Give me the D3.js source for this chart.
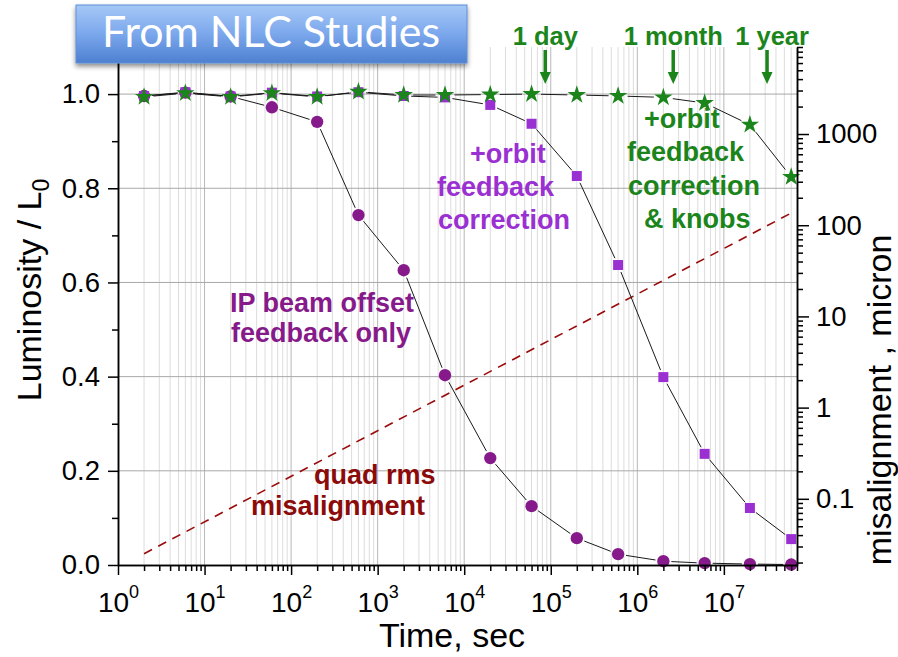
<!DOCTYPE html>
<html>
<head>
<meta charset="utf-8">
<script src="https://cdn.jsdelivr.net/npm/d3@7"></script>
<style>
  body { margin: 0; background: #fff; }
  svg { display: block; }
  text { font-family: "Liberation Sans", Arial, sans-serif; }
</style>
</head>
<body>
<svg id="chart" width="898" height="657"></svg>
<script>
// values
const times = [2, 6, 20, 60, 200, 600, 2000, 6000, 2e4, 6e4, 2e5, 6e5, 2e6, 6e6, 2e7, 6e7];
const ipOffsetOnly = [0.996, 1.003, 0.995, 0.972, 0.941, 0.743, 0.626, 0.403, 0.227, 0.125, 0.057, 0.023, 0.008, 0.004, 0.002, 0.001];
const orbitFeedback = [0.996, 1.004, 0.995, 1.003, 0.995, 1.004, 0.996, 0.993, 0.977, 0.937, 0.826, 0.637, 0.399, 0.236, 0.121, 0.055];
const orbitKnobs = [0.994, 1.002, 0.994, 1.002, 0.994, 1.005, 0.998, 0.998, 0.999, 1.0, 0.998, 0.996, 0.993, 0.981, 0.935, 0.824];
const quadTimes = [2, 6e7];
const quadRms = [0.025, 136];

const xTicks = [1, 10, 100, 1000, 1e4, 1e5, 1e6, 1e7];
const xTickExp = ['0', '1', '2', '3', '4', '5', '6', '7'];
const yTicks = [0, 0.2, 0.4, 0.6, 0.8, 1.0];
const yMinorTicks = [0.1, 0.3, 0.5, 0.7, 0.9];
const rightTicks = [0.1, 1, 10, 100, 1000];

const timeMarks = ['1 day', '1 month', '1 year'];
const timeMarkSec = [86400, 2.6e6, 3.156e7];

const svg = d3.select('#chart');

const x = d3.scaleLog().domain([1, 7e7]).range([118, 797]);
const y = d3.scaleLinear().domain([0, 1.1]).range([565, 47]);
const yR = d3.scaleLog().domain([0.0188, 9000]).range([565, 47]);

const plotTop = y.range()[1];
const plotBottom = y.range()[0];
const plotLeft = x.range()[0];
const plotRight = x.range()[1];

// ---- grid
const grid = svg.append('g');
const isDecade = v => Math.abs(Math.log10(v) - Math.round(Math.log10(v))) < 1e-9;
grid.selectAll('.vgrid')
    .data(x.ticks().filter(v => v > 1 && v < 7e7))
    .enter()
    .append('line')
    .attr('x1', d => x(d))
    .attr('x2', d => x(d))
    .attr('y1', plotTop)
    .attr('y2', plotBottom)
    .style('stroke', d => isDecade(d) ? '#b8b8b8' : '#dcdcdc')
    .style('stroke-width', '1px');

grid.selectAll('.hgrid')
    .data(yTicks.filter(d => d > 0))
    .enter()
    .append('line')
    .attr('x1', plotLeft)
    .attr('x2', plotRight)
    .attr('y1', d => y(d))
    .attr('y2', d => y(d))
    .style('stroke', '#a8a8a8')
    .style('stroke-width', '1px');

// ---- quad rms misalignment (right axis)
svg.append('path')
    .datum(quadTimes.map((t, i) => [t, quadRms[i]]))
    .attr('d', d3.line().x(d => x(d[0])).y(d => yR(d[1])))
    .style('fill', 'none')
    .style('stroke', '#9a0a0a')
    .style('stroke-width', '1.6px')
    .style('stroke-dasharray', '9,7');

// ---- connecting lines, with a small gap round each marker
function gappedSegments (values, gap) {
    const pts = times.map((t, i) => [x(t), y(values[i])]);
    return d3.pairs(pts).map(([a, b]) => {
        const dx = b[0] - a[0];
        const dy = b[1] - a[1];
        const len = Math.hypot(dx, dy);
        if (len <= 2 * gap + 1) return null;
        const ux = dx / len;
        const uy = dy / len;
        return [a[0] + ux * gap, a[1] + uy * gap, b[0] - ux * gap, b[1] - uy * gap];
    }).filter(Boolean);
}

const series = [
    { values: ipOffsetOnly, symbol: d3.symbolCircle, size: 120, color: '#861a8a', gap: 8 },
    { values: orbitFeedback, symbol: d3.symbolSquare, size: 100, color: '#9b30d2', gap: 7.5 },
    { values: orbitKnobs, symbol: d3.symbolStar, size: 105, color: '#1b851b', gap: 9.5 }
];

series.forEach(s => {
    svg.append('g')
        .selectAll('line')
        .data(gappedSegments(s.values, s.gap))
        .enter()
        .append('line')
        .attr('x1', d => d[0])
        .attr('y1', d => d[1])
        .attr('x2', d => d[2])
        .attr('y2', d => d[3])
        .style('stroke', '#1a1a1a')
        .style('stroke-width', '1px');
});

series.forEach(s => {
    svg.append('g')
        .selectAll('path')
        .data(s.values)
        .enter()
        .append('path')
        .attr('d', d3.symbol().type(s.symbol).size(s.size))
        .attr('transform', (d, i) => 'translate(' + x(times[i]) + ',' + y(d) + ')')
        .style('fill', s.color);
});

// ---- axes
function styleAxis (g) {
    g.selectAll('path.domain').style('stroke', '#000').style('stroke-width', '1.5px');
    g.selectAll('.tick line').style('stroke', '#000').style('stroke-width', '1.5px');
}

const xMinor = svg.append('g')
    .attr('transform', 'translate(0,' + plotBottom + ')')
    .call(d3.axisBottom(x).tickValues(x.ticks().filter(v => !isDecade(v))).tickSize(6).tickSizeOuter(0).tickFormat(''));
styleAxis(xMinor);

const xMajor = svg.append('g')
    .attr('transform', 'translate(0,' + plotBottom + ')')
    .call(d3.axisBottom(x).tickValues(xTicks).tickSize(10).tickSizeOuter(0).tickFormat(''));
styleAxis(xMajor);
xMajor.selectAll('.tick').append('text')
    .attr('y', 47)
    .attr('fill', '#000')
    .attr('font-size', 28)
    .attr('text-anchor', 'middle')
    .each(function (d, i) {
        const t = d3.select(this);
        t.append('tspan').text('10');
        t.append('tspan').attr('font-size', 18).attr('dy', -14).text(xTickExp[i]);
    });

const yMinor = svg.append('g')
    .attr('transform', 'translate(' + plotLeft + ',0)')
    .call(d3.axisLeft(y).tickValues(yMinorTicks).tickSize(6).tickSizeOuter(0).tickFormat(''));
styleAxis(yMinor);

const yMajor = svg.append('g')
    .attr('transform', 'translate(' + plotLeft + ',0)')
    .call(d3.axisLeft(y).tickValues(yTicks).tickSize(10).tickSizeOuter(0).tickPadding(8).tickFormat(d3.format('.1f')));
styleAxis(yMajor);
yMajor.selectAll('.tick text').attr('font-size', 27.5).attr('fill', '#000').style('font-family', '"Liberation Sans", Arial, sans-serif');

const rMinor = svg.append('g')
    .attr('transform', 'translate(' + plotRight + ',0)')
    .call(d3.axisRight(yR).tickValues(yR.ticks().filter(v => !isDecade(v))).tickSize(6).tickSizeOuter(0).tickFormat(''));
styleAxis(rMinor);

const rMajor = svg.append('g')
    .attr('transform', 'translate(' + plotRight + ',0)')
    .call(d3.axisRight(yR).tickValues(rightTicks).tickSize(12).tickSizeOuter(0).tickPadding(7).tickFormat(d3.format('~g')));
styleAxis(rMajor);
rMajor.selectAll('.tick text').attr('font-size', 27.5).attr('fill', '#000').style('font-family', '"Liberation Sans", Arial, sans-serif');

// axis titles
svg.append('text')
    .attr('x', 452)
    .attr('y', 647)
    .attr('text-anchor', 'middle')
    .attr('font-size', 34)
    .text('Time, sec');

const yTitle = svg.append('text')
    .attr('transform', 'translate(41,290) rotate(-90)')
    .attr('text-anchor', 'middle')
    .attr('font-size', 34);
yTitle.append('tspan').text('Luminosity / L');
yTitle.append('tspan').attr('font-size', 23).attr('dy', 8).text('0');

svg.append('text')
    .attr('transform', 'translate(891,400) rotate(-90)')
    .attr('text-anchor', 'middle')
    .attr('font-size', 34)
    .text('misalignment , micron');

// ---- annotations
function addLines (lines, color) {
    lines.forEach(l => {
        svg.append('text')
            .attr('x', l[1])
            .attr('y', l[2])
            .attr('font-size', 27)
            .attr('font-weight', 'bold')
            .attr('fill', color)
            .text(l[0]);
    });
}
addLines([['+orbit', 470, 163], ['feedback', 437, 196], ['correction', 438, 229]], '#9b30d2');
addLines([['+orbit', 644, 128], ['feedback', 627, 161], ['correction', 628, 195], ['& knobs', 644, 228]], '#1b851b');
addLines([['IP beam offset', 230, 312], ['feedback only', 231, 342]], '#861a8a');
addLines([['quad rms', 314, 484], ['misalignment', 251, 515]], '#8b0a0a');

// time markers with arrows
const marks = svg.append('g').selectAll('g')
    .data(timeMarkSec)
    .enter()
    .append('g')
    .attr('transform', d => 'translate(' + x(d) + ',0)');
marks.append('line')
    .attr('y1', 50)
    .attr('y2', 74)
    .style('stroke', '#1b851b')
    .style('stroke-width', '3.5px');
marks.append('path')
    .attr('d', 'M-5.5,72L5.5,72L0,84Z')
    .style('fill', '#1b851b');
marks.append('text')
    .attr('x', (d, i) => i === 2 ? 5 : 0)
    .attr('y', 45)
    .attr('text-anchor', 'middle')
    .attr('font-size', 25.5)
    .attr('font-weight', 'bold')
    .attr('fill', '#1b851b')
    .text((d, i) => timeMarks[i]);

// ---- title box
const defs = svg.append('defs');
const grad = defs.append('linearGradient').attr('id', 'boxGrad').attr('x1', 0).attr('x2', 0).attr('y1', 0).attr('y2', 1);
grad.append('stop').attr('offset', '0%').attr('stop-color', '#a6c8f6');
grad.append('stop').attr('offset', '50%').attr('stop-color', '#7ba7ec');
grad.append('stop').attr('offset', '100%').attr('stop-color', '#4d80d0');
defs.append('filter').attr('id', 'shadow').attr('x', '-10%').attr('y', '-20%').attr('width', '120%').attr('height', '160%')
    .append('feDropShadow').attr('dx', 0).attr('dy', 3).attr('stdDeviation', 2.5).attr('flood-opacity', 0.45);

svg.append('rect')
    .attr('x', 76)
    .attr('y', 5)
    .attr('width', 391)
    .attr('height', 58)
    .style('fill', 'url(#boxGrad)')
    .style('stroke', '#5f8fd6')
    .style('stroke-width', '1px')
    .attr('filter', 'url(#shadow)');

const title = svg.append('text')
    .attr('x', 271)
    .attr('y', 47)
    .attr('text-anchor', 'middle')
    .attr('fill', '#fff')
    .style('font-family', 'Lato, "Open Sans", sans-serif')
    .attr('font-size', 40)
    .text('From NLC Studies');
// fit the title to the width it has in the picture
const tw = title.node().getComputedTextLength();
title.attr('font-size', 40 * 338 / tw);
</script>
</body>
</html>
